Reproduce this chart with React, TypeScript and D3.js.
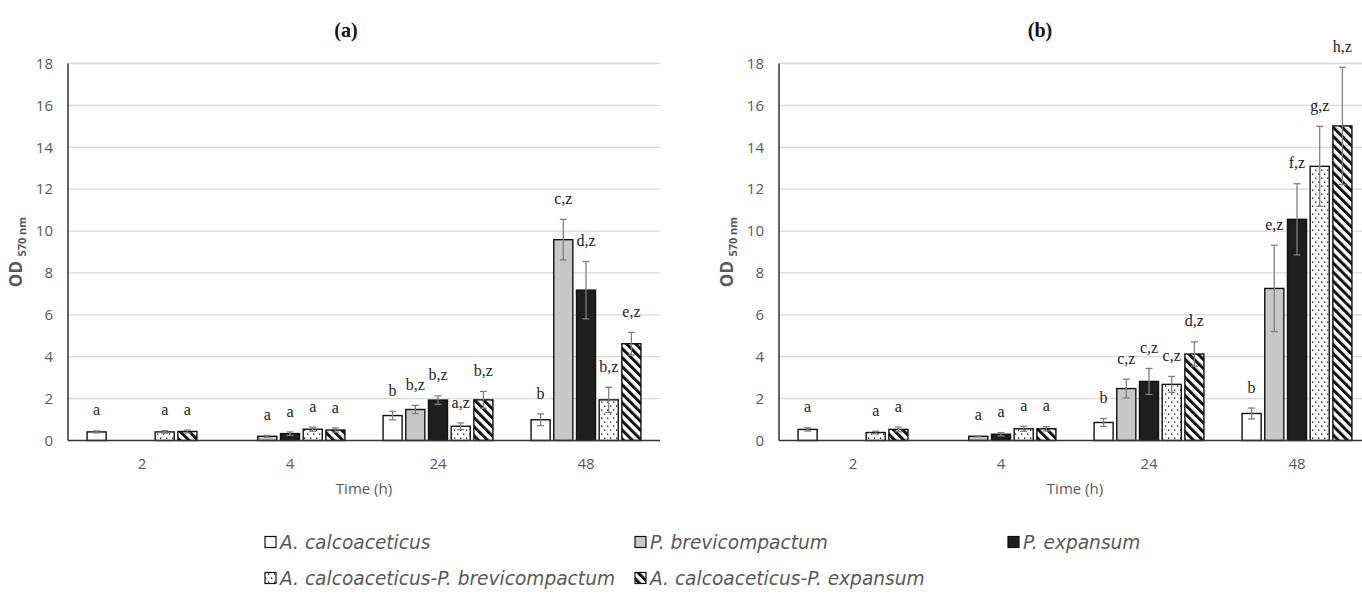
import { useRef, useEffect } from "react";
import * as d3 from "d3";

const times = ["2", "4", "24", "48"];
const seriesNames = [
  "A. calcoaceticus",
  "P. brevicompactum",
  "P. expansum",
  "A. calcoaceticus-P. brevicompactum",
  "A. calcoaceticus-P. expansum",
];
const yTicks = [0, 2, 4, 6, 8, 10, 12, 14, 16, 18];

// panel (a)
const acA = [0.41, null, 1.19, 0.99];
const pbA = [null, 0.2, 1.48, 9.59];
const peA = [null, 0.33, 1.93, 7.18];
const acPbA = [0.41, 0.54, 0.68, 1.94];
const acPeA = [0.43, 0.5, 1.94, 4.62];
const acErrA = [0.05, null, 0.2, 0.28];
const pbErrA = [null, 0.04, 0.2, 0.97];
const peErrA = [null, 0.08, 0.2, 1.37];
const acPbErrA = [0.06, 0.1, 0.16, 0.6];
const acPeErrA = [0.07, 0.1, 0.4, 0.54];
const acLabA = ["a", "", "b", "b"];
const pbLabA = ["", "a", "b,z", "c,z"];
const peLabA = ["", "a", "b,z", "d,z"];
const acPbLabA = ["a", "a", "a,z", "b,z"];
const acPeLabA = ["a", "a", "b,z", "e,z"];

// panel (b)
const acB = [0.53, null, 0.86, 1.29];
const pbB = [null, 0.2, 2.48, 7.26];
const peB = [null, 0.3, 2.82, 10.56];
const acPbB = [0.38, 0.56, 2.68, 13.09];
const acPeB = [0.53, 0.56, 4.13, 15.02];
const acErrB = [0.08, null, 0.19, 0.26];
const pbErrB = [null, 0.03, 0.45, 2.06];
const peErrB = [null, 0.08, 0.62, 1.7];
const acPbErrB = [0.06, 0.12, 0.38, 1.91];
const acPeErrB = [0.11, 0.1, 0.58, 2.8];
const acLabB = ["a", "", "b", "b"];
const pbLabB = ["", "a", "c,z", "e,z"];
const peLabB = ["", "a", "c,z", "f,z"];
const acPbLabB = ["a", "a", "c,z", "g,z"];
const acPeLabB = ["a", "a", "d,z", "h,z"];

const fills = ["#ffffff", "#c8c8c8", "#1e1e1e", "url(#dots)", "url(#hatch)"];

interface Panel {
  title: string;
  left: number;
  titleX: number;
  values: (number | null)[][];
  errors: (number | null)[][];
  labels: string[][];
}

const panels: Panel[] = [
  {
    title: "(a)",
    left: 68,
    titleX: 346,
    values: [acA, pbA, peA, acPbA, acPeA],
    errors: [acErrA, pbErrA, peErrA, acPbErrA, acPeErrA],
    labels: [acLabA, pbLabA, peLabA, acPbLabA, acPeLabA],
  },
  {
    title: "(b)",
    left: 779,
    titleX: 1040,
    values: [acB, pbB, peB, acPbB, acPeB],
    errors: [acErrB, pbErrB, peErrB, acPbErrB, acPeErrB],
    labels: [acLabB, pbLabB, peLabB, acPbLabB, acPeLabB],
  },
];

const W = 1362;
const H = 596;
const plotW = 592;
const yTop = 63.5;
const yBottom = 440.5;
const axisFont = "'Open Sans', 'Noto Sans', sans-serif";
const legendFont = "'DejaVu Sans', 'Open Sans', sans-serif";
const serif = "'Liberation Serif', 'Times New Roman', serif";

export default function App() {
  const svgRef = useRef<SVGSVGElement>(null);

  useEffect(() => {
    if (!svgRef.current) return;
    const svg = d3.select(svgRef.current);
    svg.selectAll("*").remove();

    const defs = svg.append("defs");
    const dots = defs
      .append("pattern")
      .attr("id", "dots")
      .attr("patternUnits", "userSpaceOnUse")
      .attr("width", 6)
      .attr("height", 8);
    dots.append("rect").attr("width", 6).attr("height", 8).attr("fill", "#fff");
    dots.append("rect").attr("x", 1).attr("y", 1.5).attr("width", 1.3).attr("height", 1.3).attr("fill", "#111");
    dots.append("rect").attr("x", 4).attr("y", 5.5).attr("width", 1.3).attr("height", 1.3).attr("fill", "#111");

    const hatch = defs
      .append("pattern")
      .attr("id", "hatch")
      .attr("patternUnits", "userSpaceOnUse")
      .attr("width", 6.4)
      .attr("height", 6.4)
      .attr("patternTransform", "rotate(-45)");
    hatch.append("rect").attr("width", 6.4).attr("height", 6.4).attr("fill", "#fff");
    hatch.append("rect").attr("width", 3).attr("height", 6.4).attr("fill", "#111");

    const y = d3.scaleLinear().domain([0, 18]).range([yBottom, yTop]);

    panels.forEach((p) => {
      const x = d3
        .scaleBand()
        .domain(times)
        .range([p.left, p.left + plotW])
        .padding(0);
      const xs = d3
        .scaleBand<number>()
        .domain(d3.range(seriesNames.length))
        .range([0, x.bandwidth()])
        .paddingInner(0.16)
        .paddingOuter(0.84);

      const g = svg.append("g");

      // title
      g.append("text")
        .attr("x", p.titleX)
        .attr("y", 37)
        .attr("text-anchor", "middle")
        .attr("font-family", serif)
        .attr("font-weight", "bold")
        .attr("font-size", "20px")
        .attr("fill", "#111")
        .text(p.title);

      // grid lines
      g.append("g")
        .selectAll("line")
        .data(yTicks.filter((t) => t > 0))
        .enter()
        .append("line")
        .attr("x1", p.left)
        .attr("x2", p.left + plotW)
        .attr("y1", (d) => y(d))
        .attr("y2", (d) => y(d))
        .attr("stroke", "#d9d9d9")
        .attr("stroke-width", 1.3);

      // y tick labels
      g.append("g")
        .selectAll("text")
        .data(yTicks)
        .enter()
        .append("text")
        .attr("x", p.left - 15)
        .attr("y", (d) => y(d))
        .attr("dy", "0.35em")
        .attr("text-anchor", "end")
        .attr("font-family", axisFont)
        .attr("font-size", "15px")
        .attr("fill", "#595959")
        .text((d) => d);

      // y axis title
      const yt = g
        .append("text")
        .attr("transform", `translate(${p.left - 46}, ${(yTop + yBottom) / 2}) rotate(-90)`)
        .attr("text-anchor", "middle")
        .attr("font-family", axisFont)
        .attr("font-weight", "bold")
        .attr("fill", "#595959");
      yt.append("tspan").attr("font-size", "17px").text("OD ");
      yt.append("tspan").attr("font-size", "11px").attr("dy", "4").text("570 nm");

      // bars
      times.forEach((t, ti) => {
        seriesNames.forEach((_, si) => {
          const v = p.values[si][ti];
          if (v == null) return;
          const bx = (x(t) || 0) + (xs(si) || 0);
          const bw = xs.bandwidth();
          g.append("rect")
            .attr("x", bx)
            .attr("y", y(v))
            .attr("width", bw)
            .attr("height", yBottom - y(v))
            .attr("fill", fills[si])
            .attr("stroke", "#111")
            .attr("stroke-width", 1.4);

          const e = p.errors[si][ti] || 0;
          const cx = bx + bw / 2;
          const eg = g.append("g").attr("stroke", "#808080").attr("stroke-width", 1.3);
          eg.append("line").attr("x1", cx).attr("x2", cx).attr("y1", y(v - e)).attr("y2", y(v + e));
          eg.append("line").attr("x1", cx - 3.5).attr("x2", cx + 3.5).attr("y1", y(v - e)).attr("y2", y(v - e));
          eg.append("line").attr("x1", cx - 3.5).attr("x2", cx + 3.5).attr("y1", y(v + e)).attr("y2", y(v + e));

          const lab = p.labels[si][ti];
          if (lab) {
            g.append("text")
              .attr("x", cx)
              .attr("y", y(v + e) - 21)
              .attr("dy", "0.35em")
              .attr("text-anchor", "middle")
              .attr("font-family", serif)
              .attr("font-size", "16px")
              .attr("fill", "#222")
              .text(lab);
          }
        });
      });

      // axis lines
      g.append("line")
        .attr("x1", p.left)
        .attr("x2", p.left + plotW)
        .attr("y1", yBottom)
        .attr("y2", yBottom)
        .attr("stroke", "#333")
        .attr("stroke-width", 1.4);
      g.append("line")
        .attr("x1", p.left)
        .attr("x2", p.left)
        .attr("y1", yTop)
        .attr("y2", yBottom)
        .attr("stroke", "#222")
        .attr("stroke-width", 1.4);

      g.append("g")
        .selectAll("text")
        .data(times)
        .enter()
        .append("text")
        .attr("x", (d) => (x(d) || 0) + x.bandwidth() / 2)
        .attr("y", 469)
        .attr("text-anchor", "middle")
        .attr("font-family", axisFont)
        .attr("font-size", "15px")
        .attr("fill", "#595959")
        .text((d) => d);

      g.append("text")
        .attr("x", p.left + plotW / 2)
        .attr("y", 494)
        .attr("text-anchor", "middle")
        .attr("font-family", axisFont)
        .attr("font-size", "15px")
        .attr("fill", "#595959")
        .text("Time (h)");
    });

    // legend
    const legX = [265, 635, 1008];
    const legY = [542, 578];
    const leg = svg.append("g");
    seriesNames.forEach((name, i) => {
      const lx = legX[i % 3];
      const ly = legY[Math.floor(i / 3)];
      leg.append("rect")
        .attr("x", lx)
        .attr("y", ly - 5.5)
        .attr("width", 11)
        .attr("height", 11)
        .attr("fill", fills[i])
        .attr("stroke", "#111")
        .attr("stroke-width", 1.2);
      leg.append("text")
        .attr("x", lx + 15)
        .attr("y", ly)
        .attr("dy", "0.35em")
        .attr("font-family", legendFont)
        .attr("font-style", "italic")
        .attr("font-size", "18.6px")
        .attr("fill", "#595959")
        .text(name);
    });
  }, []);

  return (
    <svg
      ref={svgRef}
      width={W}
      height={H}
      style={{ position: "absolute", left: 0, top: 0, background: "#fff" }}
    />
  );
}
